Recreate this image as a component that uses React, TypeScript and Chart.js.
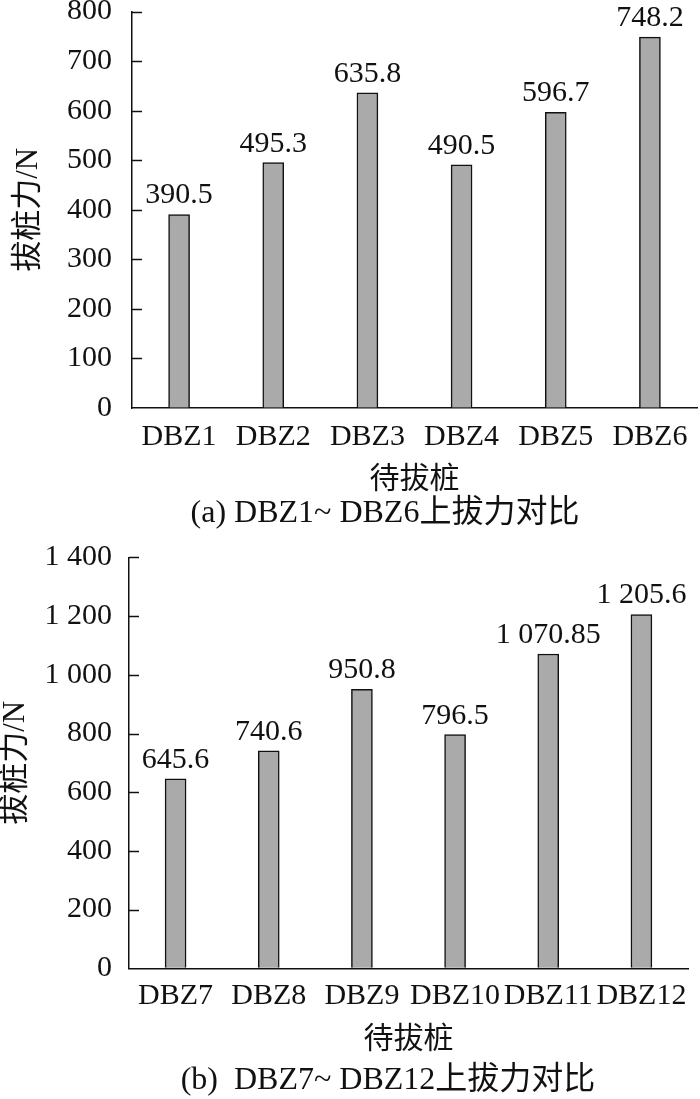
import React, { useEffect, useRef } from "react";
import { Chart, registerables } from "chart.js";

Chart.register(...registerables);

const categoriesA = ["DBZ1", "DBZ2", "DBZ3", "DBZ4", "DBZ5", "DBZ6"];
const valuesA = [390.5, 495.3, 635.8, 490.5, 596.7, 748.2];
const categoriesB = ["DBZ7", "DBZ8", "DBZ9", "DBZ10", "DBZ11", "DBZ12"];
const valuesB = [645.6, 740.6, 950.8, 796.5, 1070.85, 1205.6];
const yMaxA = 800;
const yStepA = 100;
const yMaxB = 1400;
const yStepB = 200;
const yTitle = "拔桩力/N";
const xTitle = "待拔桩";
const captionA = "(a) DBZ1~ DBZ6上拔力对比";
const captionB = "(b)  DBZ7~ DBZ12上拔力对比";

const FAMILY = "'Liberation Serif', 'Noto Sans CJK SC', serif";
const INK = "#111111";
const FS = 30;

function fmt(v: number): string {
  const [i, d] = String(v).split(".");
  const ii = i.replace(/\B(?=(\d{3})+(?!\d))/g, " ");
  return d ? ii + "." + d : ii;
}

const decor = {
  id: "decor",
  afterDatasetsDraw(chart: any, _args: any, opts: any) {
    const ctx = chart.ctx;
    const y = chart.scales.y;
    const area = chart.chartArea;
    ctx.save();
    ctx.strokeStyle = INK;
    ctx.lineWidth = 1.5;
    y.ticks.forEach((t: any) => {
      if (t.value === 0) return;
      const py = Math.round(y.getPixelForValue(t.value)) + 0.5;
      ctx.beginPath();
      ctx.moveTo(area.left, py);
      ctx.lineTo(area.left + 10, py);
      ctx.stroke();
    });
    ctx.font = `${FS}px ${FAMILY}`;
    ctx.fillStyle = INK;
    ctx.textAlign = "center";
    ctx.textBaseline = "alphabetic";
    const meta = chart.getDatasetMeta(0);
    meta.data.forEach((bar: any, i: number) => {
      const v = chart.data.datasets[0].data[i] as number;
      ctx.fillText(fmt(v), bar.x, bar.y - 11);
    });
    // caption under the chart
    ctx.font = `32px ${FAMILY}`;
    ctx.textBaseline = "middle";
    ctx.fillText(opts.text, opts.x, opts.y);
    ctx.restore();
  },
};

type Cfg = {
  labels: string[];
  values: number[];
  yMax: number;
  yStep: number;
  caption: string;
  capX: number;
  capY: number;
  axisWidth: number;
  xHeight: number;
  padTop: number;
  padRight: number;
  padBottom: number;
  tickPad: number;
  xTickPad: number;
  xTitlePadBottom: number;
  yTitleLH: number;
  yTitlePad: number;
};

function makeChart(canvas: HTMLCanvasElement, c: Cfg) {
  return new Chart(canvas, {
    type: "bar",
    data: {
      labels: c.labels,
      datasets: [
        {
          data: c.values,
          backgroundColor: "#aaaaaa",
          borderColor: INK,
          borderWidth: 1.5,
          barThickness: 21,
        },
      ],
    },
    options: {
      animation: false,
      responsive: false,
      maintainAspectRatio: false,
      layout: { padding: { top: c.padTop, right: c.padRight, left: 0, bottom: c.padBottom } },
      plugins: {
        legend: { display: false },
        tooltip: { enabled: false },
        title: { display: false },
        decor: { text: c.caption, x: c.capX, y: c.capY },
      },
      scales: {
        x: {
          grid: { display: true, drawOnChartArea: false, drawTicks: false },
          border: { display: true, color: INK, width: 1.5 },
          ticks: {
            color: INK,
            font: { family: FAMILY, size: FS, lineHeight: 1 },
            padding: c.xTickPad,
            autoSkip: false,
            maxRotation: 0,
          },
          title: {
            display: true,
            text: xTitle,
            color: INK,
            font: { family: FAMILY, size: FS, lineHeight: 1 },
            padding: { top: 0, bottom: c.xTitlePadBottom },
          },
          afterFit: (s: any) => {
            s.height = c.xHeight;
            s.paddingLeft = 0;
            s.paddingRight = 0;
          },
        },
        y: {
          min: 0,
          max: c.yMax,
          grid: { display: true, drawOnChartArea: false, drawTicks: false },
          border: { display: true, color: INK, width: 1.5 },
          ticks: {
            stepSize: c.yStep,
            color: INK,
            font: { family: FAMILY, size: FS, lineHeight: 0.8 },
            padding: c.tickPad,
            callback: (v: any) => fmt(Number(v)),
          },
          title: {
            display: true,
            text: yTitle,
            color: INK,
            font: { family: FAMILY, size: 31, lineHeight: c.yTitleLH },
            padding: { top: c.yTitlePad, bottom: 0 },
          },
          afterFit: (s: any) => {
            s.width = c.axisWidth;
            s.paddingTop = 0;
            s.paddingBottom = 0;
          },
        },
      },
    } as any,
    plugins: [decor],
  });
}

export default function App() {
  const refA = useRef<HTMLCanvasElement>(null);
  const refB = useRef<HTMLCanvasElement>(null);

  useEffect(() => {
    const a = makeChart(refA.current!, {
      labels: categoriesA,
      values: valuesA,
      yMax: yMaxA,
      yStep: yStepA,
      caption: captionA,
      capX: 385,
      capY: 514,
      axisWidth: 132,
      xHeight: 96,
      padTop: 11.5,
      padRight: 3,
      padBottom: 36,
      tickPad: 20,
      xTickPad: 14,
      xTitlePadBottom: 8.5,
      yTitleLH: 1.2,
      yTitlePad: 10,
    });
    const b = makeChart(refB.current!, {
      labels: categoriesB,
      values: valuesB,
      yMax: yMaxB,
      yStep: yStepB,
      caption: captionB,
      capX: 388,
      capY: 540.5,
      axisWidth: 129,
      xHeight: 100.7,
      padTop: 17.4,
      padRight: 12,
      padBottom: 30,
      tickPad: 17,
      xTickPad: 12.5,
      xTitlePadBottom: 13.5,
      yTitleLH: 1,
      yTitlePad: 0,
    });
    return () => {
      a.destroy();
      b.destroy();
    };
  }, []);

  return (
    <div style={{ position: "absolute", left: 0, top: 0, width: 700, height: 1099, background: "#fff" }}>
      <canvas ref={refA} width={700} height={540} style={{ position: "absolute", left: 0, top: 0 }} />
      <canvas ref={refB} width={700} height={559} style={{ position: "absolute", left: 0, top: 540 }} />
    </div>
  );
}
